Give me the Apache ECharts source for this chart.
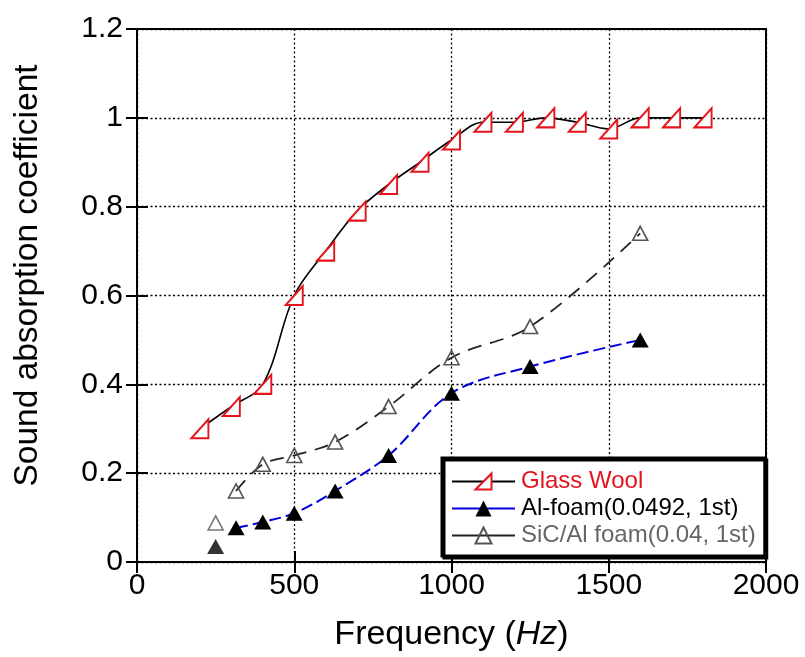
<!DOCTYPE html>
<html>
<head>
<meta charset="utf-8">
<script src="https://cdn.jsdelivr.net/npm/echarts@6/dist/echarts.min.js"></script>
<style>
html,body{margin:0;padding:0;background:#fff;}
#chart{width:805px;height:657px;}
</style>
</head>
<body>
<div id="chart"></div>
<script>
// ---- data ----
const glassWoolFreq = [200, 300, 400, 500, 600, 700, 800, 900, 1000, 1100, 1200, 1300, 1400, 1500, 1600, 1700, 1800];
const glassWoolAbs  = [0.30, 0.35, 0.40, 0.60, 0.70, 0.79, 0.85, 0.90, 0.95, 0.99, 0.99, 1.00, 0.99, 0.975, 1.00, 1.00, 1.00];

const alFoamFreq = [250, 315, 400, 500, 630, 800, 1000, 1250, 1600];
const alFoamAbs  = [0.035, 0.077, 0.09, 0.11, 0.16, 0.24, 0.38, 0.44, 0.50];

const sicFoamFreq = [250, 315, 400, 500, 630, 800, 1000, 1250, 1600];
const sicFoamAbs  = [0.088, 0.16, 0.22, 0.24, 0.27, 0.35, 0.46, 0.53, 0.74];

const xTicks = [0, 500, 1000, 1500, 2000];
const yTicks = [0, 0.2, 0.4, 0.6, 0.8, 1.0, 1.2];

const names = ['Glass Wool', 'Al-foam(0.0492, 1st)', 'SiC/Al foam(0.04, 1st)'];

const zip = (xs, ys) => xs.map((x, i) => [x, ys[i]]);

const FONT = "'Liberation Sans', Arial, sans-serif";
const chart = echarts.init(document.getElementById('chart'), null, {renderer: 'canvas'});

const gridLine = {show: true, lineStyle: {color: '#000', width: 1.3, type: [2, 2.5]}};

const option = {
  backgroundColor: '#fff',
  animation: false,
  textStyle: {fontFamily: FONT},
  grid: {left: 137, right: 39, top: 29, bottom: 94, show: true, borderColor: '#000', borderWidth: 2, backgroundColor: 'transparent'},
  legend: {
    data: [
      {name: names[0], textStyle: {color: '#e3141b'}},
      {name: names[1], textStyle: {color: '#000'}},
      {name: names[2], textStyle: {color: '#666'}}
    ],
    orient: 'vertical',
    left: 442, top: 458,
    padding: [11, 9, 8, 9],
    itemGap: 2,
    itemWidth: 63,
    itemHeight: 20,
    backgroundColor: '#fff',
    borderColor: '#000',
    borderWidth: 3,
    shadowColor: '#000',
    shadowBlur: 0,
    shadowOffsetX: 2,
    shadowOffsetY: 2,
    lineStyle: {type: 'solid'},
    textStyle: {fontSize: 24, lineHeight: 25, fontFamily: FONT, padding: [0, 0, 0, 1]}
  },
  xAxis: [{
    type: 'value', min: xTicks[0], max: xTicks[xTicks.length - 1], interval: 500,
    name: 'Frequency ({i|Hz})',
    nameLocation: 'middle', nameGap: 56,
    nameTextStyle: {fontSize: 34, color: '#000', fontFamily: FONT, rich: {i: {fontSize: 34, fontStyle: 'italic', fontFamily: FONT, color: '#000'}}},
    axisLine: {show: true, lineStyle: {color: '#000', width: 2}},
    axisTick: {show: true, inside: true, length: 11, lineStyle: {color: '#000', width: 2}},
    axisLabel: {fontSize: 30, color: '#000', margin: 9, fontFamily: FONT, formatter: v => String(v)},
    splitLine: gridLine
  }, {
    type: 'value', position: 'top', min: xTicks[0], max: xTicks[xTicks.length - 1], interval: 500,
    axisLine: {show: true, lineStyle: {color: '#000', width: 2}},
    axisTick: {show: true, inside: true, length: 11, lineStyle: {color: '#000', width: 2}},
    axisLabel: {show: false}, splitLine: {show: false}
  }],
  yAxis: [{
    type: 'value', min: yTicks[0], max: yTicks[yTicks.length - 1], interval: 0.2,
    name: 'Sound absorption coefficient',
    nameLocation: 'middle', nameGap: 92,
    nameTextStyle: {fontSize: 33.5, color: '#000', fontFamily: FONT, padding: [0, 0, 0, 40]},
    axisLine: {show: true, lineStyle: {color: '#000', width: 2}},
    axisTick: {show: true, inside: true, length: 11, lineStyle: {color: '#000', width: 2}},
    axisLabel: {fontSize: 30, color: '#000', margin: 14, fontFamily: FONT, formatter: v => String(Math.round(v * 10) / 10)},
    splitLine: gridLine
  }, {
    type: 'value', position: 'right', min: yTicks[0], max: yTicks[yTicks.length - 1], interval: 0.2,
    axisLine: {show: true, lineStyle: {color: '#000', width: 2}},
    axisTick: {show: true, inside: true, length: 11, lineStyle: {color: '#000', width: 2}},
    axisLabel: {show: false}, splitLine: {show: false}
  }],
  series: [
    {
      name: names[0], type: 'line', smooth: 0.35,
      data: zip(glassWoolFreq, glassWoolAbs),
      symbol: 'path://M0,10 L10,0 L10,10 Z', symbolSize: [17, 19],
      lineStyle: {color: '#000', width: 1.6},
      itemStyle: {color: '#fff', borderColor: '#e3141b', borderWidth: 2},
      z: 5
    },
    {
      name: names[1], type: 'line', smooth: 0.35,
      data: zip(alFoamFreq.slice(1), alFoamAbs.slice(1)),
      symbol: 'triangle', symbolSize: [17, 15],
      lineStyle: {color: '#0000dd', width: 2, type: [12, 5]},
      itemStyle: {color: '#000'},
      z: 4
    },
    {
      name: 'al-first', type: 'scatter',
      data: zip(alFoamFreq.slice(0, 1), alFoamAbs.slice(0, 1)),
      symbol: 'triangle', symbolSize: [17, 15],
      itemStyle: {color: '#000'}, z: 4
    },
    {
      name: names[2], type: 'line', smooth: 0.35,
      data: zip(sicFoamFreq.slice(1), sicFoamAbs.slice(1)),
      symbol: 'triangle', symbolSize: [15, 14],
      lineStyle: {color: '#222', width: 1.8, type: [14, 9]},
      itemStyle: {color: 'rgba(255,255,255,0)', borderColor: '#555', borderWidth: 1.6},
      z: 3
    },
    {
      name: 'sic-first', type: 'scatter',
      data: zip(sicFoamFreq.slice(0, 1), sicFoamAbs.slice(0, 1)),
      symbol: 'triangle', symbolSize: [15, 14],
      itemStyle: {color: 'rgba(255,255,255,0)', borderColor: '#555', borderWidth: 1.6}, z: 3
    }
  ]
};
chart.setOption(option);
</script>
</body>
</html>
